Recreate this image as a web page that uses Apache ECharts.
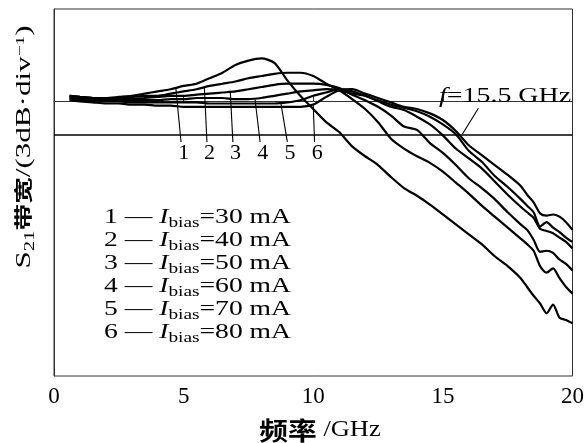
<!DOCTYPE html>
<html><head><meta charset="utf-8">
<script src="https://cdn.jsdelivr.net/npm/echarts@6/dist/echarts.min.js"></script>
<style>html,body{margin:0;padding:0;background:#fff}#c{width:587px;height:443px}</style>
</head><body><div id="c"></div>
<script>
// frequency grid (GHz)
const freq = [0.6,1,1.5,2,2.5,3,3.5,4,4.5,5, 5.5,6,6.5,7,7.5,8,8.5,9,9.5,10, 10.5,11,11.5,12,12.5,13,13.5,14,14.5,15, 15.5,16,16.5,17,17.5,18,18.25,18.5,18.75,19, 19.25,19.5,19.75,20];
// relative S21 (dB) for each bias current
const bias30 = [0.5,0.4,0.3,0.3,0.4,0.5,0.7,0.9,1.1,1.4, 1.6,2.1,2.6,3.3,3.7,3.9,3.5,1.9,0.5,-0.7, -1.9,-2.8,-4.1,-5.0,-5.8,-6.9,-7.9,-8.6,-9.4,-10.3, -11.2,-12.1,-13.0,-14.1,-15.0,-16.1,-16.9,-17.7,-18.4,-19.3, -18.5,-19.7,-19.9,-20.2];
const bias40 = [0.5,0.4,0.3,0.3,0.3,0.4,0.5,0.5,0.7,0.9, 1.1,1.4,1.6,1.8,2.1,2.3,2.5,2.6,2.6,2.3, 1.6,1.0,0.2,-0.7,-1.9,-3.4,-4.3,-5.0,-5.6,-6.4, -7.4,-8.4,-9.5,-10.5,-11.5,-12.5,-13.0,-13.6,-15.0,-15.6, -15.2,-16.1,-16.9,-17.5];
const bias50 = [0.4,0.3,0.2,0.2,0.2,0.2,0.3,0.4,0.5,0.5, 0.6,0.7,0.8,0.9,1.1,1.3,1.5,1.6,1.6,1.6, 1.5,1.2,0.6,0.1,-0.5,-1.3,-2.3,-2.6,-3.8,-4.7, -5.8,-7.0,-7.9,-8.9,-10.1,-11.2,-11.7,-12.6,-13.7,-13.6, -13.8,-14.4,-14.8,-15.4];
const bias60 = [0.3,0.2,0.1,0.1,0.1,0.1,0.1,0.1,0.2,0.2, 0.3,0.3,0.3,0.2,0.2,0.3,0.5,0.7,0.9,1.0, 1.1,1.0,0.7,0.5,0.0,-0.5,-0.8,-1.4,-2.1,-3.1, -4.3,-5.2,-6.1,-7.3,-8.5,-9.6,-10.1,-10.6,-11.6,-11.8, -12.0,-12.4,-12.8,-13.4];
const bias70 = [0.2,0.1,0.0,0.0,0.0,-0.1,-0.1,-0.1,-0.1,-0.1, -0.1,-0.2,-0.2,-0.2,-0.2,-0.2,-0.2,-0.1,0.1,0.5, 0.8,1.1,0.9,0.5,0.1,-0.3,-0.6,-0.9,-1.4,-2.1, -3.0,-4.5,-5.5,-6.8,-7.8,-8.9,-9.5,-10.1,-11.4,-11.0, -11.5,-11.9,-12.4,-12.8];
const bias80 = [0.1,0.0,-0.1,-0.2,-0.2,-0.3,-0.3,-0.4,-0.4,-0.5, -0.5,-0.5,-0.5,-0.5,-0.5,-0.5,-0.5,-0.5,-0.5,-0.3, 0.4,1.0,1.1,0.7,0.3,-0.1,-0.5,-0.7,-1.1,-1.7, -2.7,-4.0,-4.9,-5.8,-6.7,-7.7,-8.5,-9.2,-10.2,-10.4, -10.3,-10.5,-11.0,-11.7];
const biasLabels = ['30','40','50','60','70','80'];
const xTicks = [0,5,10,15,20];
const refLevel = -3;                 // -3 dB line
const curveLeaderF = [4.7,5.8,6.8,7.75,8.75,10.0];
const curveLabelF  = [5.0,6.0,7.0,8.05,9.1,10.15];
const cutoffText = '15.5 GHz';

const curves = [bias30,bias40,bias50,bias60,bias70,bias80];
const chart = echarts.init(document.getElementById('c'));
const serif = '"Liberation Serif","Times New Roman",serif';
const cjk = '"Noto Sans CJK SC",sans-serif';

chart.setOption({
  animation:false,
  backgroundColor:'#fff',
  grid:{left:54,right:9,top:9,bottom:67,show:true,borderColor:'#333',borderWidth:1},
  xAxis:{type:'value',min:xTicks[0],max:xTicks[xTicks.length-1],interval:5,
    axisLine:{show:true,lineStyle:{color:'#333',width:1}},
    axisTick:{show:true,inside:true,length:5,lineStyle:{color:'#333'}},
    axisLabel:{color:'#000',fontSize:23,fontFamily:serif,margin:9},
    splitLine:{show:false}},
  yAxis:{type:'value',min:-25,max:8.4,
    axisLine:{show:true,lineStyle:{color:'#333',width:1}},
    axisTick:{show:false},axisLabel:{show:false},splitLine:{show:false}},
  series:curves.map((c,k)=>({
    type:'line',name:biasLabels[k],data:freq.map((f,i)=>[f,c[i]]),
    showSymbol:false,symbol:'none',smooth:0.25,silent:true,
    lineStyle:{color:'#000',width:2.2},
    markLine:k===0?{symbol:['none','none'],silent:true,label:{show:false},
      lineStyle:{color:'#000',type:'solid',width:1.6},data:[{yAxis:refLevel}]}:undefined
  }))
});

function interp(c,f){
  for(let i=0;i<freq.length-1;i++){
    if(f>=freq[i]&&f<=freq[i+1]){const t=(f-freq[i])/(freq[i+1]-freq[i]);return c[i]+t*(c[i+1]-c[i]);}
  }
  return c[c.length-1];
}
const P=(f,v)=>chart.convertToPixel({xAxisIndex:0,yAxisIndex:0},[f,v]);

const g=[];
// curve number labels and leaders
curves.forEach((c,k)=>{
  const top=P(curveLeaderF[k],interp(c,curveLeaderF[k]));
  const bot=P(curveLabelF[k]-0.1,-3.7);
  const lab=P(curveLabelF[k],-4.75);
  g.push({type:'line',shape:{x1:top[0],y1:top[1],x2:bot[0],y2:bot[1]},style:{stroke:'#000',lineWidth:1.1},z:10});
  g.push({type:'text',x:lab[0],y:lab[1],z:10,style:{text:String(k+1),font:'22px '+serif,fill:'#000',align:'center',verticalAlign:'middle',textAlign:'center',textVerticalAlign:'middle'}});
});
// cutoff annotation
const cA=P(16.37,-0.64), cB=P(15.75,refLevel), cT=P(14.85,0.4);
g.push({type:'line',shape:{x1:cA[0],y1:cA[1],x2:cB[0],y2:cB[1]},style:{stroke:'#000',lineWidth:1.1},z:10});
g.push({type:'text',x:cT[0],y:cT[1],scaleX:1.33,z:10,style:{
  text:'{i|f}{n|='+cutoffText+'}',font:'21px '+serif,fill:'#000',align:'left',verticalAlign:'middle',textAlign:'left',textVerticalAlign:'middle',
  rich:{i:{fontSize:21,fontFamily:serif,fontStyle:'italic',fill:'#000'},n:{fontSize:21,fontFamily:serif,fill:'#000'}}}});
// legend block
const legRich={
  n:{fontSize:20,fontFamily:serif,lineHeight:22,verticalAlign:'top',fill:'#000'},
  i:{fontSize:20,fontFamily:serif,fontStyle:'italic',lineHeight:22,verticalAlign:'top',fill:'#000'},
  s:{fontSize:14,fontFamily:serif,lineHeight:14,verticalAlign:'top',padding:[9,0,0,0],fill:'#000'}
};
biasLabels.forEach((b,k)=>{
  g.push({type:'text',x:104,y:218.5+23*k,scaleX:1.38,z:10,style:{
    text:'{n|'+(k+1)+' — }{i|I}{s|bias}{n|='+b+' mA}',font:'20px '+serif,fill:'#000',
    align:'left',verticalAlign:'middle',textAlign:'left',textVerticalAlign:'middle',rich:legRich}});
});
// x axis title
g.push({type:'text',x:320,y:430,scaleX:1.15,z:10,style:{
  text:'{c|频率}{l| /GHz}',fill:'#000',align:'center',verticalAlign:'middle',textAlign:'center',textVerticalAlign:'middle',
  rich:{c:{fontSize:25,fontFamily:cjk,fontWeight:'bold',fill:'#000'},l:{fontSize:23,fontFamily:serif,fill:'#000'}}}});
// y axis title
g.push({type:'text',x:25,y:147,rotation:Math.PI/2,scaleX:1.48,z:10,style:{
  text:'{n|S}{s|21}{c|带宽}{n|/(3dB·div}{p|−1}{n|)}',fill:'#000',align:'center',verticalAlign:'middle',textAlign:'center',textVerticalAlign:'middle',
  rich:{
    n:{fontSize:21,fontFamily:serif,lineHeight:22,verticalAlign:'top',fill:'#000'},
    s:{fontSize:14,fontFamily:serif,lineHeight:14,verticalAlign:'top',padding:[9,0,0,0],fill:'#000'},
    p:{fontSize:13,fontFamily:serif,lineHeight:13,verticalAlign:'top',padding:[0,0,0,0],fill:'#000'},
    c:{fontSize:18,fontFamily:cjk,fontWeight:'bold',lineHeight:22,verticalAlign:'top',fill:'#000'}
  }}});
chart.setOption({graphic:{elements:g}});
</script></body></html>
